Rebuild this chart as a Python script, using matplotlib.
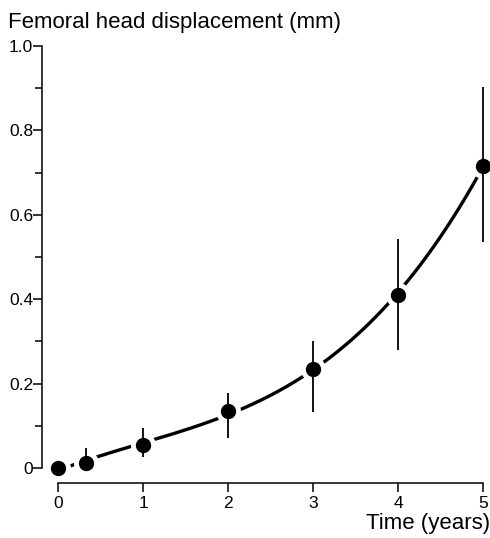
import numpy as np
import matplotlib
matplotlib.use("Agg")
import matplotlib.pyplot as plt
from matplotlib.ticker import MultipleLocator

plt.rcParams['font.family'] = ['Liberation Sans', 'DejaVu Sans']

# Data
time_years = [0, 0.33, 1, 2, 3, 4, 5]
displacement = [0.0, 0.012, 0.054, 0.134, 0.234, 0.41, 0.716]
err_low = [0.0, 0.0, 0.026, 0.072, 0.133, 0.28, 0.536]
err_high = [0.0, 0.048, 0.095, 0.178, 0.30, 0.543, 0.902]

x_ticks = [0, 1, 2, 3, 4, 5]
y_ticks = [0, 0.2, 0.4, 0.6, 0.8, 1.0]
y_tick_labels = ["0", "0.2", "0.4", "0.6", "0.8", "1.0"]

x = np.array(time_years)
y = np.array(displacement)
lo = y - np.array(err_low)
hi = np.array(err_high) - y

# fitted curve through the means
coef = np.polyfit(x, y, 3)
xf = np.linspace(0, 5, 200)
yf = np.polyval(coef, xf)

px = 72 / 100  # points per pixel at dpi 100

fig = plt.figure(figsize=(4.9, 5.38), dpi=100)
ax = fig.add_axes([58 / 490, 1 - 468 / 538, 425 / 490, 422 / 538])

ax.plot(xf, yf, color='black', lw=2.4, solid_capstyle='butt', clip_on=False, zorder=2)
# white halos cut the curve around each point
ax.plot(x, y, 'o', ms=17, color='white', mec='white', clip_on=False, zorder=3)
ax.errorbar(x, y, yerr=[lo, hi], fmt='none', ecolor='black', elinewidth=1.3,
            capsize=0, clip_on=False, zorder=4)
ax.plot(x, y, 'o', ms=10, color='black', clip_on=False, zorder=5)

ax.set_xlim(0, 5)
ax.set_ylim(0, 1.0)
ax.set_xticks(x_ticks)
ax.set_yticks(y_ticks)
ax.set_yticklabels(y_tick_labels)
ax.yaxis.set_minor_locator(MultipleLocator(0.1))

for s in ['top', 'right']:
    ax.spines[s].set_visible(False)
ax.spines['left'].set_position(('outward', 16 * px))
ax.spines['bottom'].set_position(('outward', 15 * px))
ax.spines['left'].set_bounds(0, 1.0)
ax.spines['bottom'].set_bounds(0, 5)
ax.spines['left'].set_linewidth(1.1)
ax.spines['bottom'].set_linewidth(1.1)

ax.tick_params(axis='both', which='major', length=9 * px, width=1.1, labelsize=12.5)
ax.tick_params(axis='y', which='minor', length=7 * px, width=1.1)
ax.tick_params(axis='x', pad=4 * px)
ax.tick_params(axis='y', pad=0)

fig.text(8 / 490, 1 - 28 / 538, "Femoral head displacement (mm)", fontsize=16,
         ha='left', va='baseline')
fig.text(490 / 490, 1 - 529 / 538, "Time (years)", fontsize=16,
         ha='right', va='baseline')

fig.savefig("out.png", dpi=100)
